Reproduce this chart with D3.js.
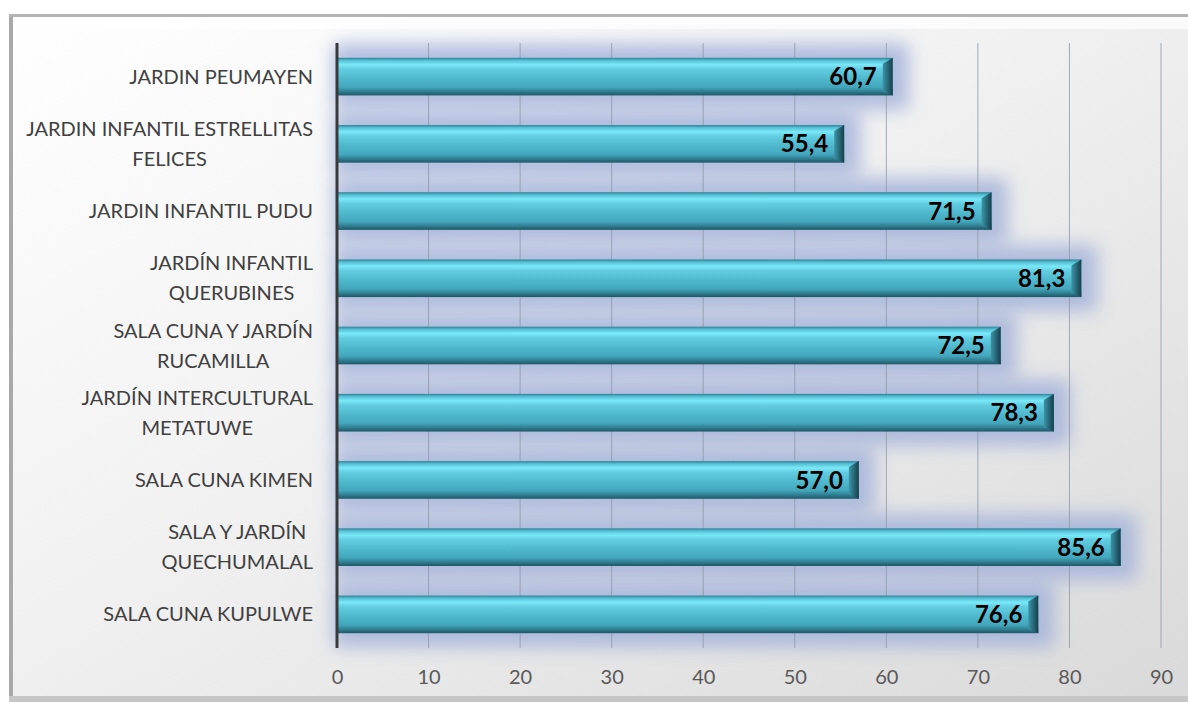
<!DOCTYPE html>
<html>
<head>
<meta charset="utf-8">
<script src="https://cdn.jsdelivr.net/npm/d3@7"></script>
<style>
  html, body { margin: 0; padding: 0; background: #fff; }
  svg { display: block; }
</style>
</head>
<body>
<svg id="chart" width="1188" height="702"></svg>
<script>
(function() {

	// data, top to bottom as shown
	var categories = [
		['JARDIN PEUMAYEN'],
		['JARDIN INFANTIL ESTRELLITAS', 'FELICES'],
		['JARDIN INFANTIL PUDU'],
		['JARDÍN INFANTIL', 'QUERUBINES'],
		['SALA CUNA Y JARDÍN', 'RUCAMILLA'],
		['JARDÍN INTERCULTURAL', 'METATUWE'],
		['SALA CUNA KIMEN'],
		['SALA Y JARDÍN ', 'QUECHUMALAL'],
		['SALA CUNA KUPULWE']
	];
	var values = [60.7, 55.4, 71.5, 81.3, 72.5, 78.3, 57.0, 85.6, 76.6];
	var tickValues = [0, 10, 20, 30, 40, 50, 60, 70, 80, 90];

	var W = 1188, H = 702;
	var PLOT = {left: 337, right: 1161, top: 43, bottom: 648};
	var LABEL_RIGHT = 313;
	var FONT = 'Lato, "Open Sans", sans-serif';

	var svg = d3.select('#chart');
	var defs = svg.append('defs');

	var bg = defs.append('linearGradient').attr('id', 'bg')
		.attr('x1', 0).attr('y1', 0).attr('x2', 1).attr('y2', 1);
	bg.append('stop').attr('offset', '0%').attr('stop-color', '#ffffff');
	bg.append('stop').attr('offset', '45%').attr('stop-color', '#f1f1f1');
	bg.append('stop').attr('offset', '100%').attr('stop-color', '#d9d9d9');

	var barGrad = defs.append('linearGradient').attr('id', 'barGrad')
		.attr('x1', 0).attr('y1', 0).attr('x2', 0).attr('y2', 1);
	[['0%', '#2f8196'], ['7%', '#55bfd4'], ['18%', '#7be9fa'], ['30%', '#62cde0'],
	 ['55%', '#4fb8cd'], ['78%', '#43a7bc'], ['90%', '#2f7d90'], ['100%', '#1f5766']]
		.forEach(function(s) {
			barGrad.append('stop').attr('offset', s[0]).attr('stop-color', s[1]);
		});

	var capGrad = defs.append('linearGradient').attr('id', 'capGrad')
		.attr('x1', 0).attr('y1', 0).attr('x2', 1).attr('y2', 0);
	capGrad.append('stop').attr('offset', '0%').attr('stop-color', '#3c94a8');
	capGrad.append('stop').attr('offset', '100%').attr('stop-color', '#163f4a');

	var glow = defs.append('filter').attr('id', 'glow')
		.attr('x', '-20%').attr('y', '-100%').attr('width', '140%').attr('height', '300%');
	glow.append('feGaussianBlur').attr('stdDeviation', 9);

	// frame
	svg.append('rect').attr('x', 0).attr('y', 0).attr('width', W).attr('height', H).attr('fill', '#ffffff');
	svg.append('rect').attr('x', 9).attr('y', 14).attr('width', W - 9).attr('height', H - 14)
		.attr('fill', 'url(#bg)');
	svg.append('rect').attr('x', 9).attr('y', 14).attr('width', 4).attr('height', H - 14).attr('fill', '#a9a9a9');
	svg.append('rect').attr('x', 9).attr('y', 14).attr('width', W - 9).attr('height', 3).attr('fill', '#b4b4b4');
	svg.append('rect').attr('x', 13).attr('y', 17).attr('width', W - 13).attr('height', 12).attr('fill', '#ffffff').attr('opacity', 0.7);
	svg.append('rect').attr('x', 9).attr('y', H - 6).attr('width', W - 9).attr('height', 6).attr('fill', '#c6c6c6');

	var x = d3.scaleLinear().domain([0, 90]).range([PLOT.left, PLOT.right]);
	var y = d3.scaleBand().domain(d3.range(categories.length))
		.range([PLOT.top, PLOT.bottom]).paddingInner(0.44).paddingOuter(0.22);

	// glow behind bars
	svg.append('g').selectAll('rect').data(values).join('rect')
		.attr('x', x(0) - 4)
		.attr('y', function(d, i) { return y(i) - 14; })
		.attr('width', function(d) { return x(d) - x(0) + 20; })
		.attr('height', y.bandwidth() + 28)
		.attr('fill', '#a4b3da')
		.attr('opacity', 0.85)
		.attr('filter', 'url(#glow)');

	// gridlines
	svg.append('g').selectAll('line').data(tickValues.slice(1)).join('line')
		.attr('x1', function(d) { return x(d); }).attr('x2', function(d) { return x(d); })
		.attr('y1', PLOT.top).attr('y2', PLOT.bottom)
		.attr('stroke', '#8e98a8').attr('stroke-width', 1).attr('opacity', 0.8);

	// bars
	var bars = svg.append('g').selectAll('g').data(values).join('g');
	bars.append('rect')
		.attr('x', x(0))
		.attr('y', function(d, i) { return y(i); })
		.attr('width', function(d) { return x(d) - x(0); })
		.attr('height', y.bandwidth())
		.attr('fill', 'url(#barGrad)');
	bars.append('path')
		.attr('d', function(d, i) {
			var xe = x(d), y0 = y(i), h = y.bandwidth();
			return 'M' + (xe - 10) + ',' + (y0 + 6) + ' L' + xe + ',' + y0 + ' L' + xe + ',' + (y0 + h) +
				' L' + (xe - 10) + ',' + (y0 + h - 4) + 'Z';
		})
		.attr('fill', 'url(#capGrad)');
	bars.append('text')
		.attr('x', function(d) { return x(d) - 16; })
		.attr('y', function(d, i) { return y(i) + y.bandwidth() / 2; })
		.attr('dy', '0.36em')
		.attr('text-anchor', 'end')
		.style('font-family', FONT)
		.style('font-weight', 'bold')
		.style('font-size', '24px')
		.attr('fill', '#000')
		.text(function(d) { return d.toFixed(1).replace('.', ','); });

	// left axis line
	svg.append('line')
		.attr('x1', PLOT.left).attr('x2', PLOT.left)
		.attr('y1', PLOT.top).attr('y2', PLOT.bottom)
		.attr('stroke', '#3a3a3a').attr('stroke-width', 3);

	// x tick labels
	var xAxis = svg.append('g')
		.attr('transform', 'translate(0,' + PLOT.bottom + ')')
		.call(d3.axisBottom(x).tickValues(tickValues).tickSize(0).tickPadding(22));
	xAxis.select('.domain').remove();
	xAxis.selectAll('text')
		.style('font-family', FONT)
		.style('font-size', '20px')
		.attr('fill', '#595959');

	// category labels, lines centred on one another, block right-aligned
	var lab = svg.append('g')
		.style('font-family', FONT)
		.style('font-size', '20px')
		.attr('fill', '#404040');
	categories.forEach(function(lines, i) {
		var g = lab.append('g');
		var cy = y(i) + y.bandwidth() / 2;
		var texts = lines.map(function(t, k) {
			return g.append('text')
				.attr('text-anchor', 'middle')
				.attr('y', cy + (k - (lines.length - 1) / 2) * 30)
				.attr('dy', '0.35em')
				.text(t);
		});
		var maxW = d3.max(texts, function(t) { return t.node().getComputedTextLength(); });
		texts.forEach(function(t) { t.attr('x', LABEL_RIGHT - maxW / 2); });
	});

}());
</script>
</body>
</html>
